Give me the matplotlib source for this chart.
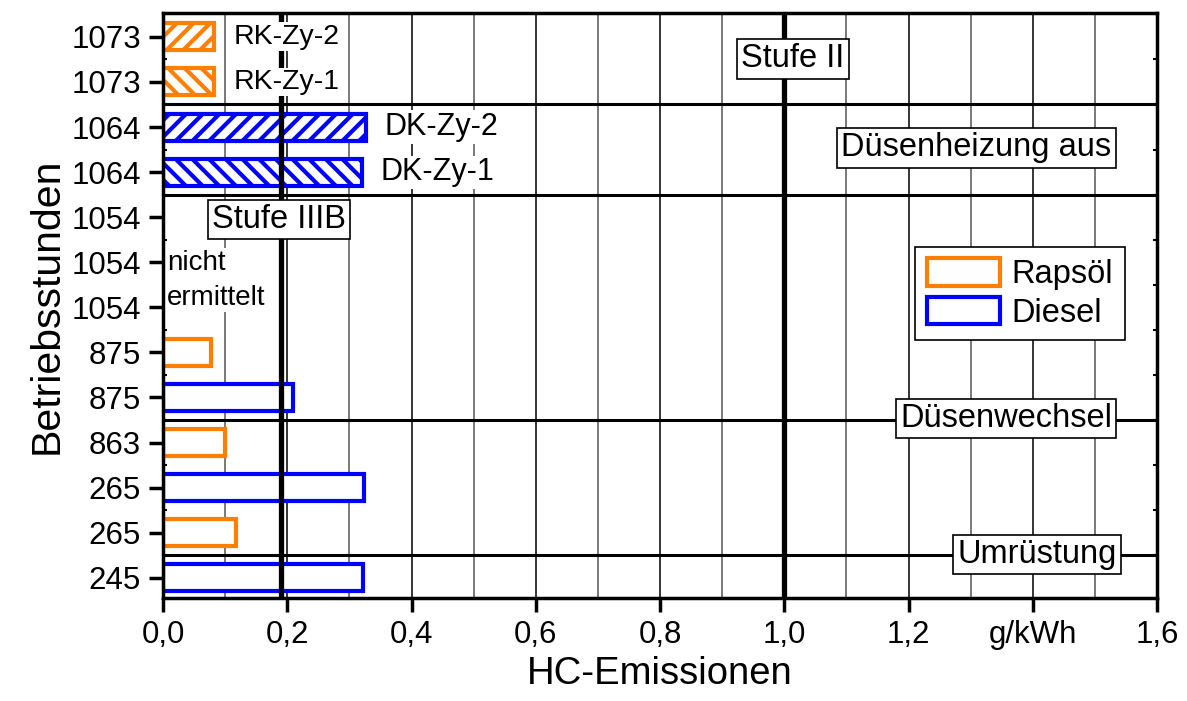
import numpy as np
import matplotlib
matplotlib.use('Agg')
import matplotlib.pyplot as plt
from matplotlib.patches import Patch
from matplotlib.ticker import FixedLocator

plt.rcParams['font.family'] = ['Liberation Sans', 'DejaVu Sans']
plt.rcParams['hatch.linewidth'] = 3.0

# Betriebsstunden von unten nach oben
stunden = ['245', '265', '265', '863', '875', '875', '1054', '1054', '1054',
           '1064', '1064', '1073', '1073']
hc_werte = [0.322, 0.117, 0.324, 0.099, 0.210, 0.077, np.nan, np.nan, np.nan,
            0.320, 0.327, 0.082, 0.082]
kraftstoff = ['Diesel', 'Rapsöl', 'Diesel', 'Rapsöl', 'Diesel', 'Rapsöl', '', '', '',
              'Diesel', 'Diesel', 'Rapsöl', 'Rapsöl']
schraffur = ['', '', '', '', '', '', '', '', '', '\\\\', '//', '\\\\', '//']
bar_namen = {9: 'DK-Zy-1', 10: 'DK-Zy-2', 11: 'RK-Zy-1', 12: 'RK-Zy-2'}

trennlinien = [0.5, 3.5, 8.5, 10.5]
ereignisse = [('Umrüstung', 1.407, 0.51), ('Düsenwechsel', 1.357, 3.53),
              ('Düsenheizung aus', 1.309, 9.54)]
grenzwerte = [('Stufe IIIB', 0.19, 0.187, 7.95), ('Stufe II', 1.0, 1.014, 11.51)]

farben = {'Rapsöl': '#ff7f00', 'Diesel': '#0000ff'}

fig = plt.figure(figsize=(11.87, 7.01), dpi=100)
ax = fig.add_axes([163 / 1187, 103 / 701, 994 / 1187, 585 / 701])

y = np.arange(len(stunden))
for i in range(len(stunden)):
    if np.isnan(hc_werte[i]):
        continue
    ax.barh(y[i], hc_werte[i], height=0.6, color='white',
            edgecolor=farben[kraftstoff[i]], linewidth=3, hatch=schraffur[i], zorder=2)

for i, name in bar_namen.items():
    if i < 11:
        ax.text(hc_werte[i] + 0.03, y[i], name, fontsize=22, va='center', ha='left',
                zorder=4, bbox=dict(facecolor='white', edgecolor='none', pad=1))
    else:
        ax.text(0.113, y[i], name, fontsize=20.5, va='center', ha='left',
                zorder=4, bbox=dict(facecolor='white', edgecolor='none', pad=1))

ax.text(0.006, 6.6, 'nicht\nermittelt', fontsize=20, va='center',
        ha='left', linespacing=1.45, zorder=4,
        bbox=dict(facecolor='white', edgecolor='none', pad=1))

# Gitter alle 0,1
for gx in np.arange(0.1, 1.6, 0.1):
    c = 'black' if round(gx * 10) % 2 == 0 else '#555555'
    ax.axvline(gx, color=c, linewidth=1.1, zorder=0.5)

for ty in trennlinien:
    ax.axhline(ty, color='black', linewidth=2.2, zorder=2.5)

for name, gx, tx, ty in grenzwerte:
    ax.axvline(gx, color='black', linewidth=3.8, zorder=3)
    ax.text(tx, ty, name, fontsize=23.5, ha='center', va='center', zorder=5,
            bbox=dict(facecolor='white', edgecolor='black', linewidth=1.2, pad=3))

for name, tx, ty in ereignisse:
    ax.text(tx, ty, name, fontsize=23.5, ha='center', va='center', zorder=5,
            bbox=dict(facecolor='white', edgecolor='black', linewidth=1.2, pad=3))

ax.set_xlim(0, 1.6)
ax.set_ylim(-0.45, 12.53)
ax.set_yticks(y)
ax.set_yticklabels(stunden)
ax.yaxis.set_minor_locator(FixedLocator(np.arange(-0.5, 13, 0.5)))
ax.set_xticks([0, 0.2, 0.4, 0.6, 0.8, 1.0, 1.2, 1.4, 1.6])
ax.set_xticklabels(['0,0', '0,2', '0,4', '0,6', '0,8', '1,0', '1,2', 'g/kWh', '1,6'])
ax.tick_params(axis='both', which='major', labelsize=22.5, width=2.5, length=10,
               direction='out', pad=6)
ax.tick_params(axis='y', which='minor', left=True, right=True, direction='in',
               width=1.5, length=3)
for s in ax.spines.values():
    s.set_linewidth(2.5)
    s.set_zorder(6)

ax.set_xlabel('HC-Emissionen', fontsize=27.5, labelpad=4)
ax.set_ylabel('Betriebsstunden', fontsize=29.5, labelpad=4)

handles = [Patch(facecolor='white', edgecolor=farben['Rapsöl'], linewidth=3, label='Rapsöl'),
           Patch(facecolor='white', edgecolor=farben['Diesel'], linewidth=3, label='Diesel')]
leg = ax.legend(handles=handles, loc='upper left', bbox_to_anchor=(0.757, 0.60),
                borderaxespad=0, fontsize=23.5, handlelength=2.25, handleheight=0.9,
                handletextpad=0.35, labelspacing=0.2, borderpad=0.35,
                fancybox=False, framealpha=1)
leg.get_frame().set_edgecolor('black')
leg.get_frame().set_linewidth(1.2)
leg.set_zorder(7)

plt.savefig('out.png', dpi=100)
